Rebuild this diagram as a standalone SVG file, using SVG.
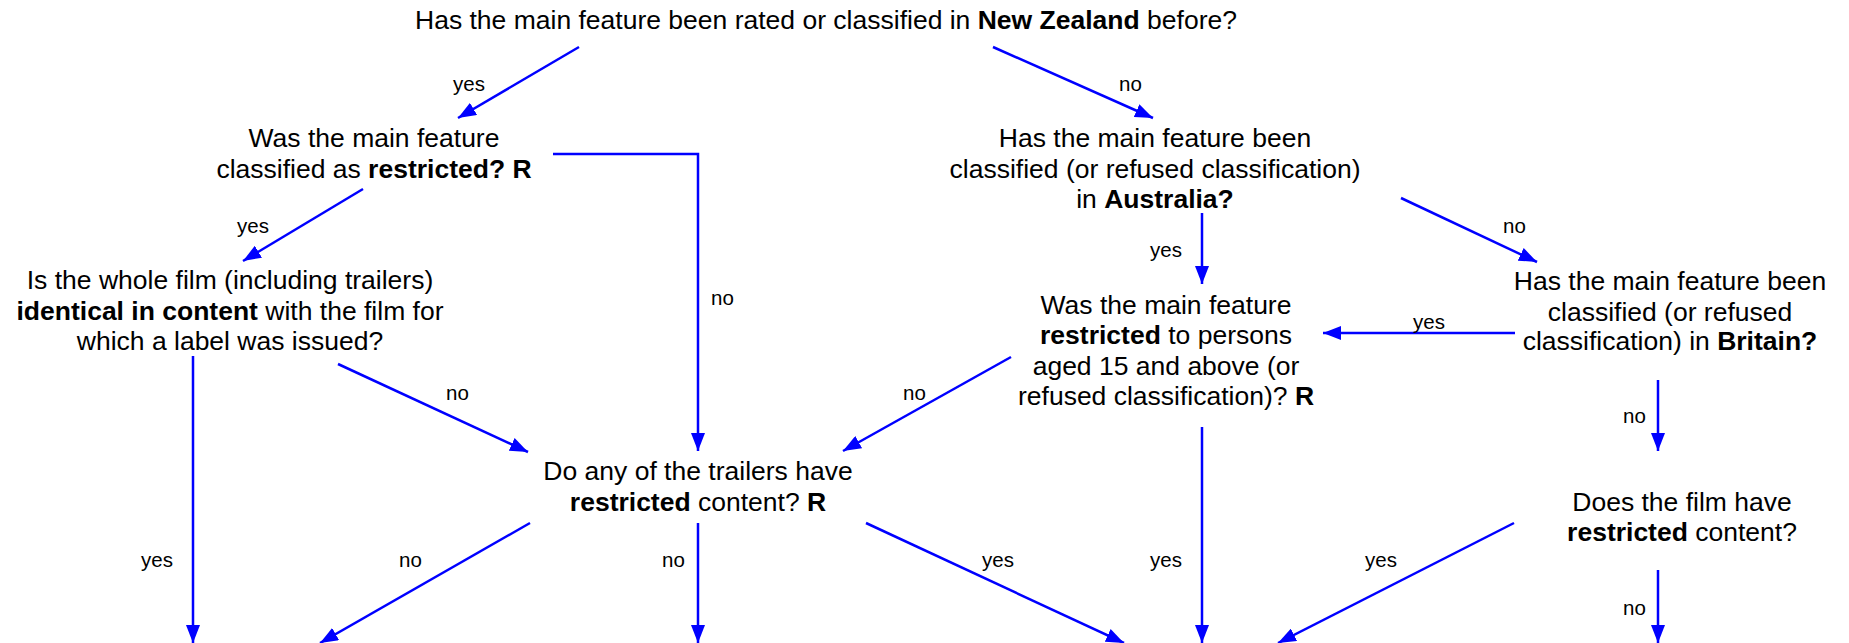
<svg xmlns="http://www.w3.org/2000/svg" width="1849" height="643" viewBox="0 0 1849 643">
<style>
.t{font-family:"Liberation Sans",Arial,sans-serif;font-size:26.5px;fill:#000;text-anchor:middle}
.b{font-weight:bold}
.l{font-family:"Liberation Sans",Arial,sans-serif;font-size:20.5px;fill:#000}
.c{stroke:#0000FF;stroke-width:2.5;fill:none;marker-end:url(#ah)}
</style>
<defs>
<marker id="ah" markerUnits="userSpaceOnUse" markerWidth="20" markerHeight="14" refX="18" refY="7" orient="auto">
<path d="M0,0 L18,7 L0,14 z" fill="#0000FF"/>
</marker>
</defs>
<rect width="1849" height="643" fill="#fff"/>
<g id="connectors">
<path class="c" d="M579,47 L458,118"/>
<path class="c" d="M993,47 L1153,118"/>
<path class="c" d="M363,189 L243,261"/>
<path class="c" d="M553,154 L698,154 L698,451"/>
<path class="c" d="M193,356 L193,643"/>
<path class="c" d="M338,364 L528,452"/>
<path class="c" d="M530,523 L320,643"/>
<path class="c" d="M698,523 L698,643"/>
<path class="c" d="M866,523 L1124,643"/>
<path class="c" d="M1202,213 L1202,284"/>
<path class="c" d="M1401,198 L1537,262"/>
<path class="c" d="M1515,333 L1323,333"/>
<path class="c" d="M1011,357 L843,451"/>
<path class="c" d="M1202,427 L1202,643"/>
<path class="c" d="M1658,380 L1658,451"/>
<path class="c" d="M1514,523 L1278,643"/>
<path class="c" d="M1658,570 L1658,643"/>
</g>
<g id="labels">
<text class="l" x="453" y="91">yes</text>
<text class="l" x="1119" y="91">no</text>
<text class="l" x="237" y="233">yes</text>
<text class="l" x="711" y="305">no</text>
<text class="l" x="1150" y="257">yes</text>
<text class="l" x="1503" y="233">no</text>
<text class="l" x="1413" y="329">yes</text>
<text class="l" x="446" y="400">no</text>
<text class="l" x="903" y="400">no</text>
<text class="l" x="1623" y="423">no</text>
<text class="l" x="141" y="567">yes</text>
<text class="l" x="399" y="567">no</text>
<text class="l" x="662" y="567">no</text>
<text class="l" x="982" y="567">yes</text>
<text class="l" x="1150" y="567">yes</text>
<text class="l" x="1365" y="567">yes</text>
<text class="l" x="1623" y="615">no</text>
</g>
<g id="n-nz">
<text class="t" x="826" y="29">Has the main feature been rated or classified in <tspan class="b">New Zealand</tspan> before?</text>
</g>
<g id="n-restricted">
<text class="t" x="374" y="147">Was the main feature</text>
<text class="t" x="374" y="178">classified as <tspan class="b">restricted? R</tspan></text>
</g>
<g id="n-identical">
<text class="t" x="230" y="289">Is the whole film (including trailers)</text>
<text class="t" x="230" y="320"><tspan class="b">identical in content</tspan> with the film for</text>
<text class="t" x="230" y="350">which a label was issued?</text>
</g>
<g id="n-trailers">
<text class="t" x="698" y="480">Do any of the trailers have</text>
<text class="t" x="698" y="511"><tspan class="b">restricted</tspan> content? <tspan class="b">R</tspan></text>
</g>
<g id="n-australia">
<text class="t" x="1155" y="147">Has the main feature been</text>
<text class="t" x="1155" y="178">classified (or refused classification)</text>
<text class="t" x="1155" y="208">in <tspan class="b">Australia?</tspan></text>
</g>
<g id="n-r15">
<text class="t" x="1166" y="314">Was the main feature</text>
<text class="t" x="1166" y="344"><tspan class="b">restricted</tspan> to persons</text>
<text class="t" x="1166" y="374.5">aged 15 and above (or</text>
<text class="t" x="1166" y="405">refused classification)? <tspan class="b">R</tspan></text>
</g>
<g id="n-britain">
<text class="t" x="1670" y="290">Has the main feature been</text>
<text class="t" x="1670" y="321">classified (or refused</text>
<text class="t" x="1670" y="350">classification) in <tspan class="b">Britain?</tspan></text>
</g>
<g id="n-film">
<text class="t" x="1682" y="511">Does the film have</text>
<text class="t" x="1682" y="541"><tspan class="b">restricted</tspan> content?</text>
</g>
</svg>
